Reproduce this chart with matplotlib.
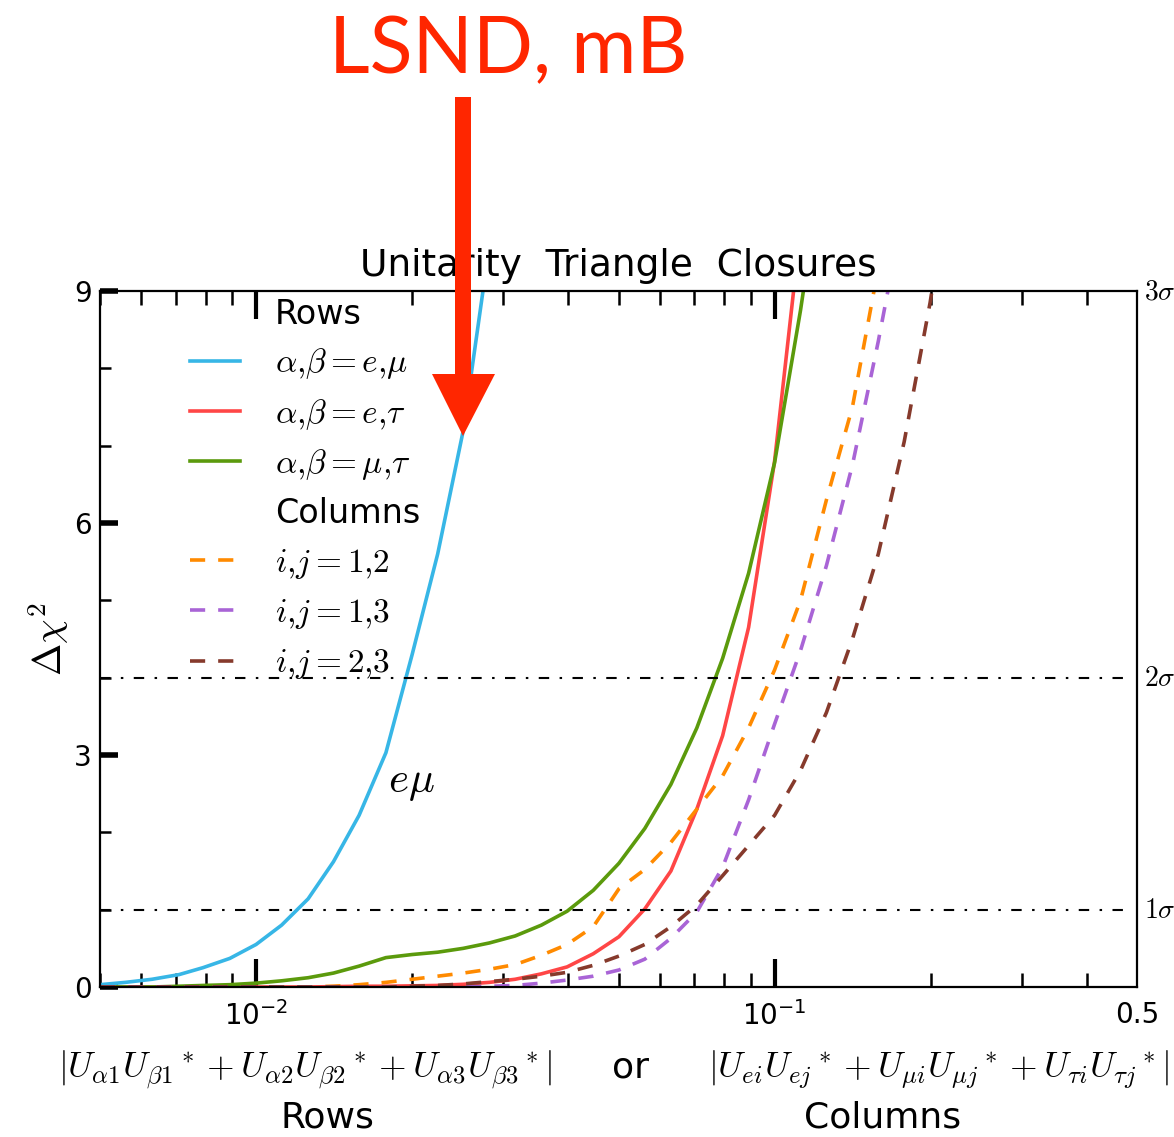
import numpy as np
import matplotlib
matplotlib.use('Agg')
import matplotlib.pyplot as plt
from matplotlib.lines import Line2D
from matplotlib.patches import Polygon
from matplotlib.ticker import FixedLocator, LogLocator, NullFormatter, FixedFormatter

plt.rcParams['mathtext.fontset'] = 'cm'
plt.rcParams['font.family'] = ['DejaVu Sans']

# ---------------- data ----------------
x_grid = [0.005, 0.0056, 0.0063, 0.0071, 0.0079, 0.0089, 0.01, 0.0112, 0.0126,
          0.0141, 0.0158, 0.0178, 0.02, 0.0224, 0.0251, 0.0282, 0.0316, 0.0355,
          0.0398, 0.0447, 0.0501, 0.0562, 0.0631, 0.0708, 0.0794, 0.0891, 0.1,
          0.1122, 0.1259, 0.1413, 0.1585, 0.1778, 0.1995, 0.2239]

rows_e_mu = [0.03, 0.06, 0.10, 0.16, 0.25, 0.37, 0.55, 0.80, 1.14, 1.62, 2.22,
             3.03, 4.3, 5.6, 7.2, 9.6]
rows_e_tau = [0, 0, 0, 0, 0, 0, 0, 0, 0, 0.005, 0.01, 0.01, 0.015, 0.02, 0.035,
              0.06, 0.10, 0.17, 0.26, 0.43, 0.65, 1.01, 1.50, 2.3, 3.25, 4.65,
              6.8, 9.8]
rows_mu_tau = [0.0, 0.0, 0.0, 0.01, 0.02, 0.03, 0.05, 0.08, 0.12, 0.18, 0.27,
               0.38, 0.42, 0.45, 0.50, 0.57, 0.66, 0.80, 0.98, 1.25, 1.6, 2.05,
               2.62, 3.35, 4.25, 5.35, 6.78, 8.75, 11.0]
cols_12 = [0, 0, 0, 0, 0, 0, 0, 0, 0, 0.01, 0.03, 0.06, 0.10, 0.14, 0.18, 0.23,
           0.29, 0.41, 0.55, 0.78, 1.27, 1.52, 1.87, 2.3, 2.73, 3.35, 4.1, 5.0,
           6.3, 7.5, 9.3]
cols_13 = [0, 0, 0, 0, 0, 0, 0, 0, 0, 0, 0, 0, 0, 0, 0, 0.01, 0.02, 0.05, 0.09,
           0.14, 0.22, 0.36, 0.63, 0.97, 1.55, 2.42, 3.4, 4.35, 5.45, 6.75, 8.35,
           10.1]
cols_23 = [0, 0, 0, 0, 0, 0, 0, 0, 0, 0, 0, 0, 0.01, 0.02, 0.04, 0.07, 0.10,
           0.14, 0.19, 0.28, 0.40, 0.55, 0.78, 1.06, 1.44, 1.83, 2.22, 2.8,
           3.55, 4.5, 5.6, 7.05, 8.85, 11.0]

row_labels = [r'$\alpha{,}\beta=e{,}\mu$', r'$\alpha{,}\beta=e{,}\tau$',
              r'$\alpha{,}\beta=\mu{,}\tau$']
col_labels = [r'$i{,}j=1{,}2$', r'$i{,}j=1{,}3$', r'$i{,}j=2{,}3$']
y_ticks = [0, 3, 6, 9]
sigma_levels = [1, 4, 9]
sigma_labels = [r'$1\sigma$', r'$2\sigma$', r'$3\sigma$']

row_colors = ['#37b6e6', '#ff4646', '#5b9a0c']
col_colors = ['#ff8a00', '#a964d6', '#863a2c']

# ---------------- figure ----------------
W, H = 1174, 1137
fig = plt.figure(figsize=(W / 100, H / 100), dpi=100)
ax = fig.add_axes([100 / W, 1 - 987 / H, 1037 / W, 696 / H])

lw = 2.6
dash = (4.2, 3.6)
for y, c, lab in zip([rows_e_mu, rows_e_tau, rows_mu_tau], row_colors, row_labels):
    ax.plot(x_grid[:len(y)], y, color=c, lw=lw, label=lab)
for y, c, lab in zip([cols_12, cols_13, cols_23], col_colors, col_labels):
    ax.plot(x_grid[:len(y)], y, color=c, lw=lw, dashes=dash, label=lab)

for s in sigma_levels[:2]:
    ax.axhline(s, xmin=0, xmax=0.99, color='black', lw=1.5, dashes=(5, 5, 1.2, 5))

ax.set_xscale('log')
ax.set_xlim(0.005, 0.5)
ax.set_ylim(0, 9)

# x ticks
ax.xaxis.set_major_locator(FixedLocator([0.01, 0.1, 0.5]))
ax.xaxis.set_major_formatter(FixedFormatter([r'$\mathregular{10^{-2}}$',
                                             r'$\mathregular{10^{-1}}$', '0.5']))
ax.xaxis.set_minor_locator(LogLocator(base=10, subs=np.arange(2, 10) * 1.0, numticks=20))
ax.xaxis.set_minor_formatter(NullFormatter())
ax.tick_params(axis='x', which='major', direction='in', length=20, width=3,
               top=True, bottom=True, labelsize=20, pad=10)
ax.tick_params(axis='x', which='minor', direction='in', length=10, width=1.8,
               top=True, bottom=True)
for t in ax.get_xticklabels():
    t.set_math_fontfamily('dejavusans')
last_tick = ax.xaxis.get_major_ticks()[2]
last_tick.tick1line.set_visible(False)
last_tick.tick2line.set_visible(False)

# y ticks
ax.set_yticks(y_ticks)
ax.set_yticks(range(0, 10), minor=True)
ax.tick_params(axis='y', which='major', direction='in', length=13, width=4,
               left=True, right=False, labelsize=20, pad=6)
ax.tick_params(axis='y', which='minor', direction='in', length=8, width=1.8,
               left=True, right=False)

for sp in ax.spines.values():
    sp.set_linewidth(1.6)

# right sigma labels
for s, lab in zip(sigma_levels, sigma_labels):
    ax.text(1.007, s, lab, transform=ax.get_yaxis_transform(), fontsize=20,
            ha='left', va='center')

ax.set_title('Unitarity  Triangle  Closures', fontsize=27, pad=11)
ax.set_ylabel(r'$\Delta\chi^2$', fontsize=28, labelpad=2)

ax.text(0.0199, 2.65, r'$e\mu$', fontsize=31, ha='center', va='center')

# legend
hdr_rows = Line2D([], [], color='none', label='Rows')
hdr_cols = Line2D([], [], color='none', label='Columns')
lines = ax.get_lines()
handles = [hdr_rows] + lines[0:3] + [hdr_cols] + lines[3:6]
leg = ax.legend(handles=handles, loc='upper left', bbox_to_anchor=(0.087, 0.99),
                frameon=False, fontsize=24, handlelength=1.5, handletextpad=1.05,
                labelspacing=0.46, borderpad=0, borderaxespad=0)

# x labels
fig.text(305 / W, 1 - 1070 / H,
         r'$|U_{\alpha1}{U_{\beta1}}^* + U_{\alpha2}{U_{\beta2}}^* + U_{\alpha3}{U_{\beta3}}^*|$',
         fontsize=25.5, ha='center', va='center')
fig.text(631 / W, 1 - 1068 / H, 'or', fontsize=26, ha='center', va='center')
fig.text(939 / W, 1 - 1070 / H,
         r'$|U_{ei}{U_{ej}}^* + U_{\mu i}{U_{\mu j}}^* + U_{\tau i}{U_{\tau j}}^*|$',
         fontsize=25.5, ha='center', va='center')
fig.text(327 / W, 1 - 1118 / H, 'Rows', fontsize=26, ha='center', va='center')
fig.text(883 / W, 1 - 1118 / H, 'Columns', fontsize=26, ha='center', va='center')

# LSND annotation and arrow
red = '#ff2600'
fig.text(508 / W, 1 - 51 / H, 'LSND, mB', fontsize=57, color=red, family='Lato',
         ha='center', va='center')
arrow_px = [(455, 97), (471, 97), (471, 374), (495, 374), (463, 436),
            (432, 374), (455, 374)]
arrow = Polygon([(px / W, 1 - py / H) for px, py in arrow_px], closed=True,
                transform=fig.transFigure, facecolor=red, edgecolor='none', zorder=10)
fig.add_artist(arrow)

fig.savefig('out.png', dpi=100)
